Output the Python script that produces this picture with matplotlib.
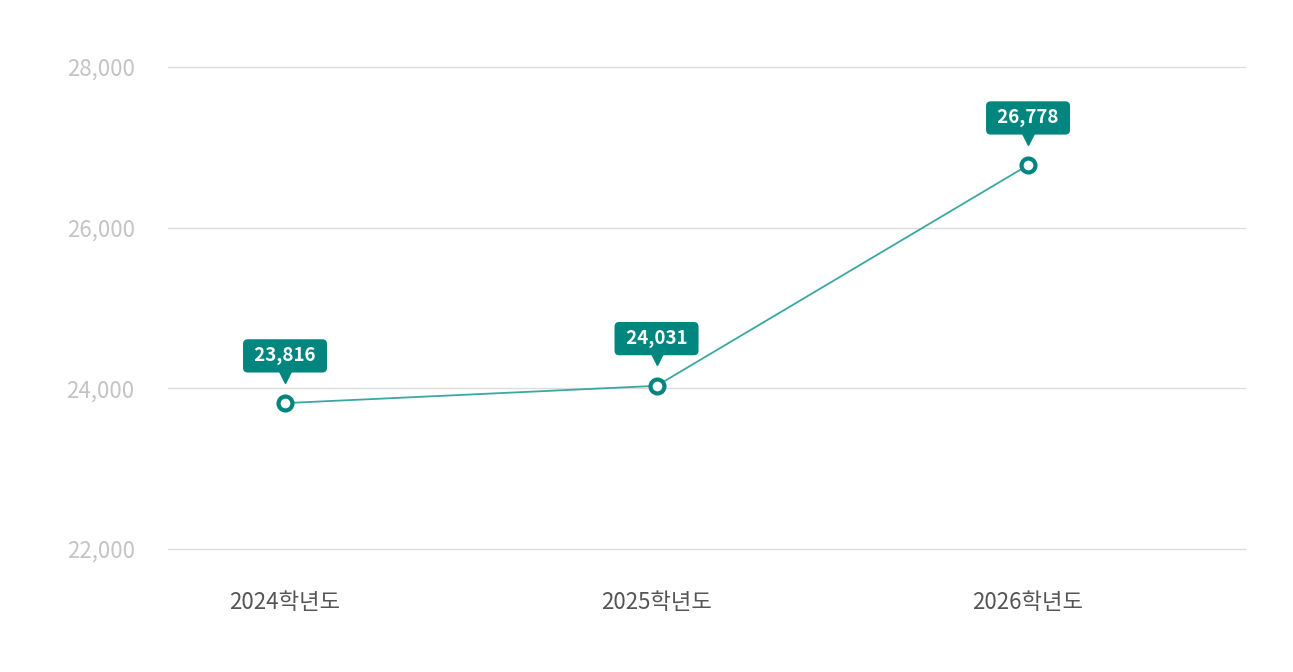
import matplotlib
matplotlib.use("Agg")
import matplotlib.pyplot as plt
import matplotlib.transforms as mtransforms
from matplotlib.ticker import FuncFormatter

plt.rcParams['font.family'] = ['Noto Sans CJK KR', 'DejaVu Sans']

# data
years = ['2024학년도', '2025학년도', '2026학년도']
students = [23816, 24031, 26778]
yticks = [22000, 24000, 26000, 28000]

teal = '#00867f'
line_teal = '#3aa8a2'

fig = plt.figure(figsize=(12.93, 6.72), dpi=100)
ax = fig.add_axes([168 / 1293, 1 - 549 / 672, 1077 / 1293, 482 / 672])

xs = list(range(len(years)))
ax.plot(xs, students, color=line_teal, lw=1.3, zorder=3)
ax.plot(xs, students, 'o', ms=10, mfc='white', mec=teal, mew=3, zorder=4)

# little pointer under each label box
tri = mtransforms.offset_copy(ax.transData, fig=fig, x=0, y=19, units='points')
ax.plot(xs, students, 'v', ms=8, color=teal, transform=tri, zorder=5,
        clip_on=False)

for x, v in zip(xs, students):
    ax.annotate(f' {v:,} ', xy=(x, v), xytext=(0, 34), textcoords='offset points',
                ha='center', va='center', color='white', fontsize=13.5,
                fontweight='bold', zorder=6,
                bbox=dict(boxstyle='round,pad=0.38,rounding_size=0.25',
                          fc=teal, ec='none'))

ax.set_xlim(-0.315, 2.584)
ax.set_ylim(22000, 28000)
ax.set_yticks(yticks)
ax.yaxis.set_major_formatter(FuncFormatter(lambda v, p: f'{int(v):,}'))
ax.set_xticks(xs)
ax.set_xticklabels(years)
ax.grid(axis='y', color='#dcdcdc', lw=1)
for gl in ax.get_ygridlines():
    gl.set_clip_on(False)
ax.set_axisbelow(True)
ax.tick_params(axis='y', length=0, pad=24, labelsize=16, labelcolor='#c4c4c4')
ax.tick_params(axis='x', length=0, pad=30, labelsize=16, labelcolor='#555555')
for s in ax.spines.values():
    s.set_visible(False)

fig.savefig('out.png', dpi=100)
